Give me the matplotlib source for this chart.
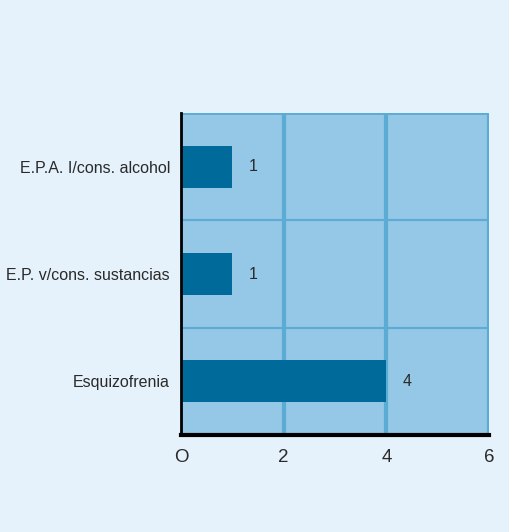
import matplotlib
matplotlib.use("Agg")
import matplotlib.pyplot as plt

categories = ["Esquizofrenia", "E.P. v/cons. sustancias", "E.P.A. I/cons. alcohol"]
values = [4, 1, 1]
x_ticks = [0, 2, 4, 6]
x_tick_labels = ["O", "2", "4", "6"]

plt.rcParams["font.family"] = ["Liberation Sans", "DejaVu Sans"]

bg = "#e6f2fb"
plot_bg = "#95c7e6"
grid_c = "#5aacd4"
bar_c = "#006a9a"
text_c = "#2a2a2a"

fig = plt.figure(figsize=(5.09, 5.32), dpi=100, facecolor=bg)
ax = fig.add_axes([0.3556, 0.1823, 0.6051, 0.6053])
ax.set_facecolor(plot_bg)

ypos = list(range(len(categories)))
ax.barh(ypos, values, height=0.39, color=bar_c, zorder=3)

ax.set_xlim(0, 6)
ax.set_ylim(-0.5, len(categories) - 0.5)

# vertical grid at the major ticks
for xv in x_ticks[1:]:
    ax.axvline(xv, color=grid_c, lw=3, zorder=1)
# separators between category bands
for yv in [0.5, 1.5]:
    ax.axhline(yv, color=grid_c, lw=1.5, zorder=1)
ax.axhline(len(categories) - 0.5, color=grid_c, lw=2, zorder=1)

ax.set_xticks(x_ticks)
ax.set_xticklabels(x_tick_labels, fontsize=13.5, color=text_c)
ax.set_yticks(ypos)
ax.set_yticklabels(categories, fontsize=11.5, color=text_c)
ax.tick_params(axis="both", length=0)
ax.tick_params(axis="x", pad=10)
ax.tick_params(axis="y", pad=8)

for s in ["top", "right"]:
    ax.spines[s].set_visible(False)
ax.spines["left"].set_color("black")
ax.spines["left"].set_linewidth(2)
ax.spines["bottom"].set_color("black")
ax.spines["bottom"].set_linewidth(3)
ax.spines["left"].set_zorder(5)
ax.spines["bottom"].set_zorder(5)

for y, v in zip(ypos, values):
    ax.annotate(str(v), xy=(v, y), xytext=(12, 0), textcoords="offset points",
                va="center", ha="left", fontsize=11.5, color=text_c, zorder=6)

fig.savefig("out.png", dpi=100, facecolor=bg)
